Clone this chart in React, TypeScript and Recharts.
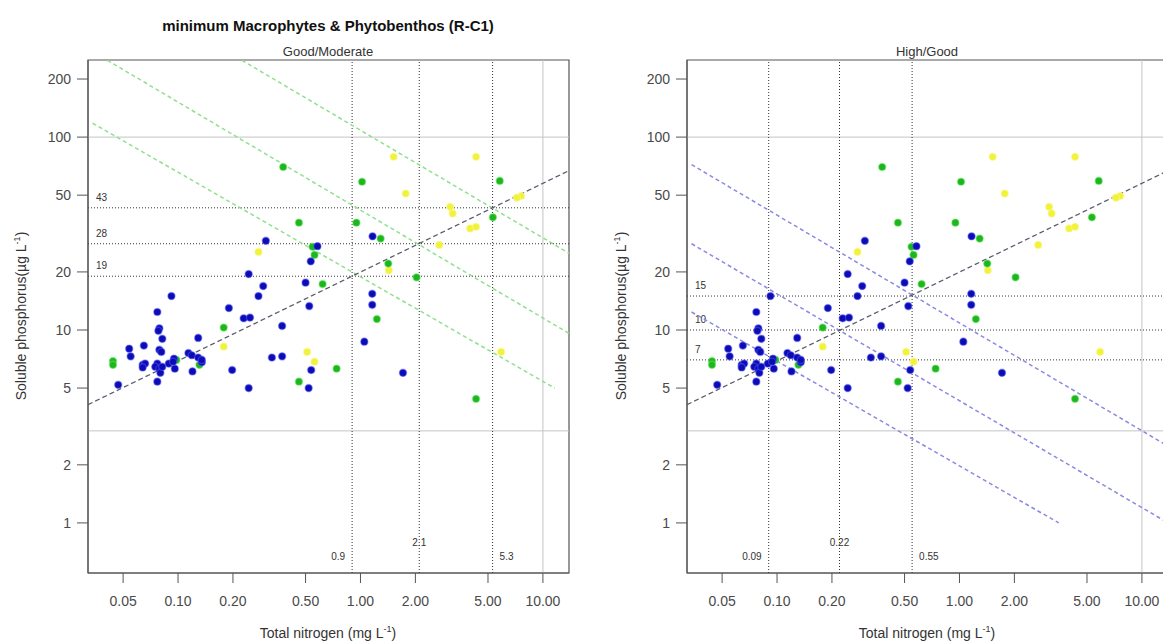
import React from "react";
import { ScatterChart, Scatter, XAxis, YAxis, ReferenceLine, ReferenceArea } from "recharts";

const X_TICKS = [0.05, 0.1, 0.2, 0.5, 1, 2, 5, 10];
const Y_TICKS = [1, 2, 5, 10, 20, 50, 100, 200];
const X_DOMAIN = [0.0321, 13.9];
const Y_DOMAIN = [0.55, 251];

// sites, total N (mg/L) vs soluble P (ug/L)
const bluePoints = [
  { n: 0.047, p: 5.2 }, { n: 0.054, p: 8.0 }, { n: 0.055, p: 7.3 }, { n: 0.065, p: 8.3 },
  { n: 0.064, p: 6.6 }, { n: 0.066, p: 6.7 }, { n: 0.064, p: 6.4 }, { n: 0.077, p: 12.4 },
  { n: 0.079, p: 10.2 }, { n: 0.078, p: 9.9 }, { n: 0.082, p: 9.0 }, { n: 0.079, p: 7.9 },
  { n: 0.081, p: 7.7 }, { n: 0.077, p: 6.7 }, { n: 0.075, p: 6.45 }, { n: 0.079, p: 6.3 },
  { n: 0.077, p: 5.4 }, { n: 0.08, p: 6.0 }, { n: 0.082, p: 6.45 }, { n: 0.089, p: 6.7 },
  { n: 0.092, p: 15.0 }, { n: 0.095, p: 7.1 }, { n: 0.096, p: 6.3 }, { n: 0.094, p: 6.85 },
  { n: 0.114, p: 7.6 }, { n: 0.119, p: 7.4 }, { n: 0.12, p: 6.1 }, { n: 0.129, p: 9.1 },
  { n: 0.129, p: 7.2 }, { n: 0.135, p: 6.8 }, { n: 0.135, p: 7.0 }, { n: 0.19, p: 13.0 },
  { n: 0.198, p: 6.2 }, { n: 0.244, p: 19.5 }, { n: 0.229, p: 11.5 }, { n: 0.248, p: 11.6 },
  { n: 0.244, p: 5.0 }, { n: 0.276, p: 15.0 }, { n: 0.293, p: 16.9 }, { n: 0.303, p: 29 },
  { n: 0.327, p: 7.2 }, { n: 0.372, p: 10.5 }, { n: 0.372, p: 7.3 }, { n: 0.5, p: 17.6 },
  { n: 0.524, p: 13.3 }, { n: 0.534, p: 22.7 }, { n: 0.581, p: 27.2 }, { n: 0.537, p: 6.2 },
  { n: 0.52, p: 5.0 }, { n: 1.05, p: 8.7 }, { n: 1.165, p: 30.6 }, { n: 1.16, p: 15.4 },
  { n: 1.16, p: 13.5 }, { n: 1.71, p: 6.0 },
];

const greenPoints = [
  { n: 0.044, p: 6.9 }, { n: 0.044, p: 6.6 }, { n: 0.377, p: 70 }, { n: 1.02, p: 58.7 },
  { n: 5.8, p: 59.3 }, { n: 0.46, p: 36 }, { n: 0.95, p: 36 }, { n: 1.29, p: 29.8 },
  { n: 1.42, p: 22.1 }, { n: 2.03, p: 18.75 }, { n: 1.23, p: 11.4 }, { n: 0.178, p: 10.3 },
  { n: 0.546, p: 27 }, { n: 0.56, p: 24.5 }, { n: 0.62, p: 17.3 }, { n: 0.46, p: 5.4 },
  { n: 0.74, p: 6.3 }, { n: 4.3, p: 4.4 }, { n: 5.32, p: 38.4 }, { n: 0.131, p: 6.6 },
  { n: 0.098, p: 7.0 },
];

const yellowPoints = [
  { n: 1.52, p: 79 }, { n: 4.3, p: 79 }, { n: 1.77, p: 51 }, { n: 7.6, p: 49.5 },
  { n: 7.2, p: 48.5 }, { n: 3.1, p: 43.5 }, { n: 3.2, p: 40.2 }, { n: 3.99, p: 33.6 },
  { n: 4.3, p: 34.3 }, { n: 2.7, p: 27.6 }, { n: 1.43, p: 20.4 }, { n: 0.276, p: 25.4 },
  { n: 0.178, p: 8.2 }, { n: 0.51, p: 7.7 }, { n: 0.56, p: 6.85 }, { n: 5.9, p: 7.7 },
];

const regressionLine = [{ n: 0.0321, p: 4.1 }, { n: 13.9, p: 67 }];

const goodModLines = [
  [{ n: 0.034, p: 118 }, { n: 11.6, p: 5.0 }],
  [{ n: 0.041, p: 250 }, { n: 13.9, p: 9.6 }],
  [{ n: 0.224, p: 250 }, { n: 13.9, p: 25 }],
];
const highGoodLines = [
  [{ n: 0.034, p: 72 }, { n: 13.9, p: 2.5 }],
  [{ n: 0.034, p: 28 }, { n: 13.9, p: 1.0 }],
  [{ n: 0.034, p: 12.4 }, { n: 3.5, p: 1.0 }],
];

const goodModP = [43, 28, 19];
const goodModN = [0.9, 2.1, 5.3];
const goodModNLabels = ["0.9", "2.1", "5.3"];
const highGoodP = [15, 10, 7];
const highGoodN = [0.09, 0.22, 0.55];
const highGoodNLabels = ["0.09", "0.22", "0.55"];

const FONT = "'Liberation Sans', Arial, sans-serif";
const TICK = { fontSize: 14, fill: "#4a4a4a", fontFamily: FONT };

const dot = (fill: string, halo: string) => (props: any) => (
  <circle cx={props.cx} cy={props.cy} r={3.6} fill={fill} stroke={halo} strokeWidth={1.4} strokeOpacity={0.45} />
);

const hLabel = (text: string) => (props: any) => {
  const vb = props.viewBox;
  return (
    <text x={vb.x + 8} y={vb.y - 7} fontSize={10} fill="#333" fontFamily={FONT}>
      {text}
    </text>
  );
};

const vLabel = (text: string, idx: number) => (props: any) => {
  const vb = props.viewBox;
  const bottom = vb.y + vb.height;
  const anchor = idx === 0 ? "end" : idx === 1 ? "middle" : "start";
  const dx = idx === 0 ? -7 : idx === 1 ? 0 : 7;
  const y = idx === 1 ? bottom - 27 : bottom - 13;
  return (
    <text x={vb.x + dx} y={y} fontSize={10} fill="#333" textAnchor={anchor} fontFamily={FONT}>
      {text}
    </text>
  );
};

function Panel({ pLevels, nLevels, nLabels, diagonals, diagColor }: any) {
  return (
    <ScatterChart width={580} height={642} margin={{ top: 60, right: 11, bottom: 0, left: 0 }}>
      <XAxis
        type="number"
        dataKey="n"
        scale="log"
        domain={X_DOMAIN}
        ticks={X_TICKS}
        allowDataOverflow
        height={69}
        tickSize={10}
        tickMargin={13}
        tick={TICK}
        tickFormatter={(v: number) => v.toFixed(2)}
        stroke="#555"
      />
      <YAxis
        type="number"
        dataKey="p"
        scale="log"
        domain={Y_DOMAIN}
        ticks={Y_TICKS}
        allowDataOverflow
        width={88}
        tickSize={11}
        tickMargin={6}
        tick={TICK}
        stroke="#555"
      />
      <ReferenceArea x1={X_DOMAIN[0]} x2={X_DOMAIN[1]} y1={Y_DOMAIN[0]} y2={Y_DOMAIN[1]} fill="none" fillOpacity={0} stroke="#555" strokeWidth={1.2} ifOverflow="visible" />
      <ReferenceLine y={100} stroke="#c4c4c4" />
      <ReferenceLine y={3} stroke="#c4c4c4" />
      <ReferenceLine x={10} stroke="#c4c4c4" />
      {pLevels.map((v: number) => (
        <ReferenceLine key={"p" + v} y={v} stroke="#333" strokeDasharray="1 2" label={hLabel(String(v))} />
      ))}
      {nLevels.map((v: number, i: number) => (
        <ReferenceLine key={"n" + v} x={v} stroke="#333" strokeDasharray="1 2" label={vLabel(nLabels[i], i)} />
      ))}
      {diagonals.map((seg: any, i: number) => (
        <ReferenceLine
          key={"d" + i}
          segment={[{ x: seg[0].n, y: seg[0].p }, { x: seg[1].n, y: seg[1].p }]}
          stroke={diagColor}
          strokeWidth={1.5}
          strokeDasharray="4 3"
          ifOverflow="hidden"
        />
      ))}
      <ReferenceLine
        segment={[{ x: regressionLine[0].n, y: regressionLine[0].p }, { x: regressionLine[1].n, y: regressionLine[1].p }]}
        stroke="#5a5a6e"
        strokeWidth={1.3}
        strokeDasharray="5 3"
        ifOverflow="hidden"
      />
      <Scatter data={yellowPoints} isAnimationActive={false} shape={dot("#f2f23a", "#f8f8a0")} />
      <Scatter data={greenPoints} isAnimationActive={false} shape={dot("#1fb51f", "#66ee66")} />
      <Scatter data={bluePoints} isAnimationActive={false} shape={dot("#0c0cb4", "#5a5aff")} />
    </ScatterChart>
  );
}

function YTitle({ x }: { x: number }) {
  return (
    <text transform={`translate(${x},316) rotate(-90)`} textAnchor="middle" fontSize={14} fill="#333" fontFamily={FONT}>
      Soluble phosphorus(µg L
      <tspan dy={-6} fontSize={9}>-1</tspan>
      <tspan dy={6}>)</tspan>
    </text>
  );
}

function XTitle({ x }: { x: number }) {
  return (
    <text x={x} y={638} textAnchor="middle" fontSize={14} fill="#333" fontFamily={FONT}>
      Total nitrogen (mg L
      <tspan dy={-6} fontSize={9}>-1</tspan>
      <tspan dy={6}>)</tspan>
    </text>
  );
}

export default function App() {
  return (
    <div style={{ position: "absolute", left: 0, top: 0, width: 1163, height: 642, overflow: "hidden", background: "#fff" }}>
      <div style={{ position: "absolute", left: 0, top: 0 }}>
        <Panel pLevels={goodModP} nLevels={goodModN} nLabels={goodModNLabels} diagonals={goodModLines} diagColor="#8fe08f" />
      </div>
      <div style={{ position: "absolute", left: 599, top: 0 }}>
        <Panel pLevels={highGoodP} nLevels={highGoodN} nLabels={highGoodNLabels} diagonals={highGoodLines} diagColor="#8a8ae0" />
      </div>
      <svg width={1163} height={642} style={{ position: "absolute", left: 0, top: 0, pointerEvents: "none" }}>
        <text x={328} y={31} textAnchor="middle" fontSize={15} fontWeight="bold" fill="#111" fontFamily={FONT}>
          minimum Macrophytes &amp; Phytobenthos (R-C1)
        </text>
        <text x={328} y={56} textAnchor="middle" fontSize={13} fill="#333" fontFamily={FONT}>
          Good/Moderate
        </text>
        <text x={927} y={56} textAnchor="middle" fontSize={13} fill="#333" fontFamily={FONT}>
          High/Good
        </text>
        <YTitle x={26} />
        <YTitle x={626} />
        <XTitle x={328} />
        <XTitle x={927} />
      </svg>
    </div>
  );
}
